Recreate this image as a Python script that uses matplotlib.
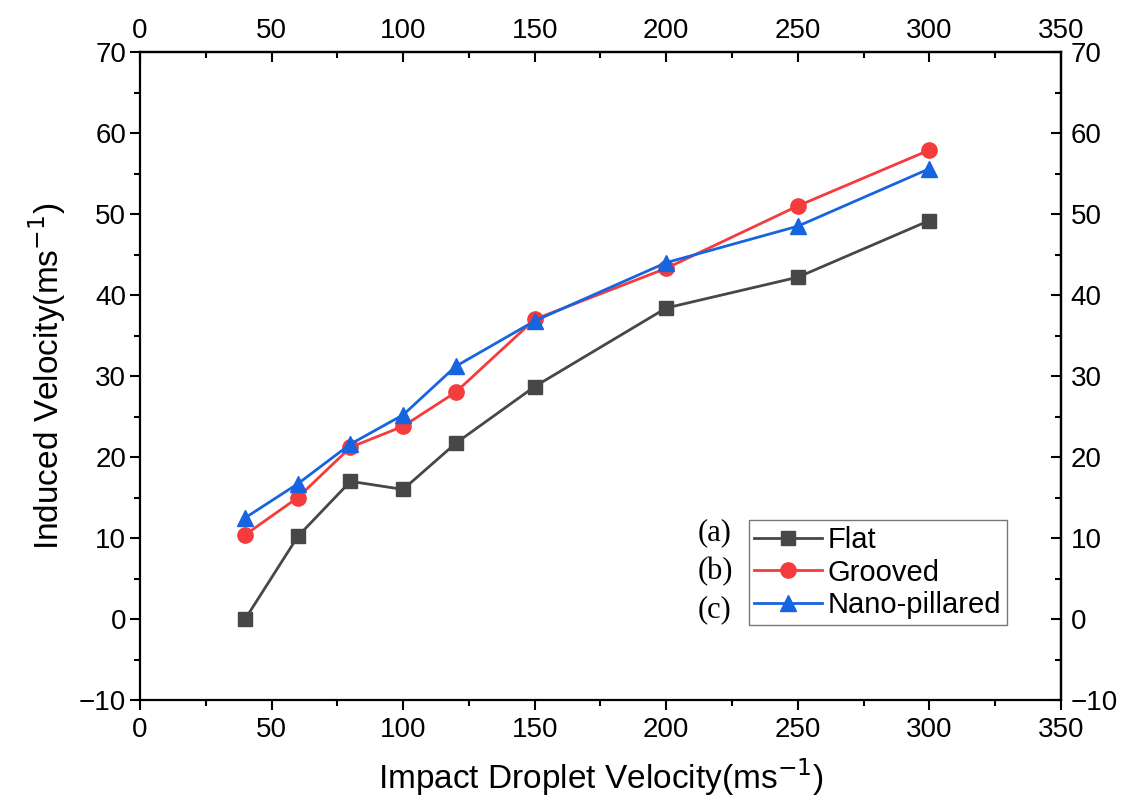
from matplotlib import pyplot as plt
from matplotlib.ticker import MultipleLocator

impact_velocity = [40, 60, 80, 100, 120, 150, 200, 250, 300]
flat = [0.0, 10.2, 17.0, 16.0, 21.7, 28.7, 38.4, 42.2, 49.2]
grooved = [10.4, 15.0, 21.2, 23.8, 28.0, 37.0, 43.3, 51.0, 57.9]
nano_pillared = [12.5, 16.7, 21.6, 25.2, 31.2, 36.8, 44.0, 48.5, 55.6]
series_labels = ["Flat", "Grooved", "Nano-pillared"]
tag_labels = ["(a)", "(b)", "(c)"]

plt.rcParams['font.family'] = ['Liberation Sans', 'DejaVu Sans']

fig = plt.figure(figsize=(11.36, 8.09), dpi=100)
ax = fig.add_axes([0.1232, 0.1347, 0.8108, 0.801])

ax.plot(impact_velocity, flat, color='#474747', lw=2, marker='s', ms=10, label=series_labels[0])
ax.plot(impact_velocity, grooved, color='#f53b3b', lw=2, marker='o', ms=11, label=series_labels[1])
ax.plot(impact_velocity, nano_pillared, color='#1764e0', lw=2, marker='^', ms=12, label=series_labels[2])

ax.set_xlim(0, 350)
ax.set_ylim(-10, 70)
ax.xaxis.set_major_locator(MultipleLocator(50))
ax.xaxis.set_minor_locator(MultipleLocator(25))
ax.yaxis.set_major_locator(MultipleLocator(10))
ax.yaxis.set_minor_locator(MultipleLocator(5))

ax.set_xlabel("Impact Droplet Velocity(ms$^{-1}$)", fontsize=24, labelpad=10)
ax.set_ylabel("Induced Velocity(ms$^{-1}$)", fontsize=24, labelpad=8)

for s in ax.spines.values():
    s.set_linewidth(1.6)
ax.tick_params(axis='x', which='major', direction='out', length=7, width=1.5, labelsize=20, pad=5)
ax.tick_params(axis='y', which='major', direction='out', length=7, width=1.5, labelsize=20, pad=3)
ax.tick_params(which='minor', direction='out', length=4, width=1.5)

top = ax.secondary_xaxis('top')
top.xaxis.set_major_locator(MultipleLocator(50))
top.xaxis.set_minor_locator(MultipleLocator(25))
top.tick_params(which='major', direction='in', length=7, width=1.5, labelsize=20, pad=6)
top.tick_params(which='minor', direction='in', length=4, width=1.5)

right = ax.secondary_yaxis('right')
right.yaxis.set_major_locator(MultipleLocator(10))
right.yaxis.set_minor_locator(MultipleLocator(5))
right.tick_params(which='major', direction='in', length=7, width=1.5, labelsize=20, pad=7)
right.tick_params(which='minor', direction='in', length=4, width=1.5)
for sa in (top, right):
    for s in sa.spines.values():
        s.set_linewidth(1.6)

leg = ax.legend(loc='lower right', bbox_to_anchor=(0.941, 0.116), borderaxespad=0, fontsize=21,
                fancybox=False, edgecolor='#777777', framealpha=1,
                handlelength=2.3, handletextpad=0.2, borderpad=0.2, labelspacing=0.15)
leg.get_frame().set_linewidth(1.0)

for i, t in enumerate(tag_labels):
    fig.text(0.614, 0.342 - i * 0.048, t, fontsize=22, family='Liberation Serif', va='center')

fig.savefig("out.png", dpi=100)
